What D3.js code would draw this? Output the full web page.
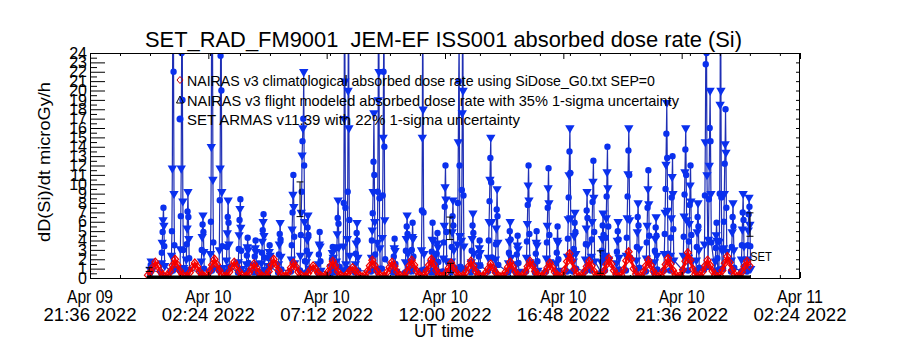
<!DOCTYPE html>
<html lang="en">
<head>
<meta charset="UTF-8">
<script src="https://d3js.org/d3.v7.min.js"></script>
<title>SET_RAD_FM9001 JEM-EF absorbed dose rate</title>
<style>
  body { margin: 0; background: #fff; }
  text { font-family: 'Liberation Sans', Arial, sans-serif; fill: #000; }
</style>
</head>
<body>
<svg width="900" height="350"></svg>
<script>
    // all times are hours relative to 2022-04-10 00:00 UT
    const tickHours = [-2.4, 2.4, 7.2, 12, 16.8, 21.6, 26.4];
    const tickDay = ["Apr 09", "Apr 10", "Apr 10", "Apr 10", "Apr 10", "Apr 10", "Apr 11"];
    const tickTime = ["21:36 2022", "02:24 2022", "07:12 2022", "12:00 2022", "16:48 2022", "21:36 2022", "02:24 2022"];
    const doseTicks = [0,1,2,3,4,5,6,7,8,9,10,11,12,13,14,15,16,17,18,19,20,21,22,23,24];

    // NAIRAS climatological, one value every 6 min starting 23:57
    const climStart = -0.05, climStepH = 0.1;
    const climDose = [
        0.30,0.65,1.15,1.70,1.25,0.70,0.30,0.15, 0.25,0.70,1.35,2.00,1.40,0.75,0.35,0.15,
        0.20,0.60,1.10,1.60,1.20,0.65,0.30,0.15, 0.25,0.75,1.40,2.00,1.45,0.80,0.35,0.15,
        0.20,0.65,1.20,1.70,1.25,0.70,0.30,0.12, 0.20,0.55,1.00,1.50,1.10,0.60,0.25,0.12,
        0.25,0.70,1.35,2.00,1.45,0.80,0.35,0.15, 0.20,0.60,1.10,1.60,1.20,0.65,0.30,0.12,
        0.18,0.50,0.90,1.30,0.95,0.55,0.25,0.12, 0.22,0.65,1.25,1.80,1.30,0.70,0.30,0.14,
        0.18,0.45,0.80,1.10,0.85,0.50,0.25,0.12, 0.22,0.70,1.30,1.90,1.35,0.75,0.32,0.14,
        0.20,0.62,1.15,1.70,1.25,0.68,0.30,0.13, 0.22,0.68,1.30,1.90,1.40,0.76,0.33,0.14,
        0.25,0.72,1.38,2.00,1.45,0.78,0.35,0.15, 0.20,0.58,1.08,1.60,1.15,0.62,0.28,0.13,
        0.22,0.65,1.22,1.80,1.30,0.70,0.31,0.14, 0.20,0.55,1.00,1.50,1.08,0.60,0.27,0.12,
        0.20,0.62,1.15,1.70,1.22,0.66,0.30,0.13, 0.22,0.66,1.24,1.80,1.32,0.72,0.32,0.14,
        0.20,0.58,1.08,1.60,1.16,0.63,0.28,0.13, 0.28,0.85,1.75,2.60,1.85,0.95,0.40,0.16,
        0.22,0.66,1.24,1.80,1.30,0.70,0.31,0.14, 0.25,0.75,1.45,2.10,1.50,0.80,0.35,0.15,
        0.30,0.90,1.85,2.80,2.00,1.00,0.42,0.17, 0.22,0.68,1.30,1.90,1.36,0.74,0.33,0.14,
        0.25,0.75,1.45,2.10,1.50,0.80,0.35,0.15, 0.28,0.88,1.80,2.70,1.92,0.98,0.41,0.16,
        0.22,0.68,1.30,1.90,1.36,0.74,0.33,0.14, 0.26,0.80,1.58,2.30,1.65,0.86,0.37,0.15,
        0.22,0.65,1.24,1.80,1.30
    ];

    // SET ARMAS, 1-minute samples grouped by pass (start hour of each pass)
    const setStepMin = 1;
    const passStart = [
        0.03, 0.48, 0.89, 1.25, 1.49, 2.10, 2.47, 2.83, 3.12, 3.60,
        3.93, 4.25, 4.54, 4.82, 5.23, 5.75, 6.12, 6.36, 6.85, 7.38,
        7.58, 7.86, 8.02, 8.35, 9.00, 9.24, 9.44, 9.89, 10.38, 10.62,
        11.03, 11.43, 11.63, 11.92, 12.24, 12.49, 12.65, 13.05, 13.34, 13.74,
        14.03, 14.56, 14.88, 15.29, 15.65, 16.10, 16.50, 16.95, 17.19, 17.68,
        17.92, 18.33, 18.49, 18.94, 19.34, 19.75, 20.15, 20.48, 20.88, 21.13,
        21.65, 21.86, 22.18, 22.51, 22.67, 22.95, 23.11, 23.28, 23.60, 24.01,
        24.25
    ];
    const passDose = [
        [0.5, 0.9, 1.4, 1.8, 1.3, 0.8],
        [0.6, 1.6, 2.7, 3.8, 4.9, 6.2, 7.5, 5.6, 3.4, 1.3],
        [0.7, 2.4, 5.0, 11.7, 28, 45, 22, 9.0, 3.5, 1.0],
        [0.8, 3.1, 6.6, 11.7, 24, 38, 19, 8.2, 3.0, 1.1],
        [0.7, 2.0, 3.6, 5.3, 7.1, 9.2, 6.5, 4.2, 2.1, 0.9],
        [0.6, 1.8, 3.0, 4.4, 5.7, 6.7, 4.9, 2.8, 1.0],
        [0.7, 2.6, 6.0, 14, 32, 50, 26, 10.5, 3.8, 1.0],
        [0.8, 3.0, 8.3, 11.7, 23.7, 42, 20, 9.2, 3.4, 1.1],
        [0.7, 1.9, 3.3, 4.8, 6.5, 8.3, 5.9, 3.6, 1.2],
        [0.6, 1.7, 3.1, 4.6, 6.2, 7.4, 8.4, 5.4, 2.9, 1.0],
        [0.6, 1.5, 2.4, 3.3, 4.3, 3.0, 1.6, 0.8],
        [0.6, 1.4, 2.3, 3.2, 4.0, 2.8, 1.5, 0.7],
        [0.6, 1.6, 2.7, 3.9, 5.1, 6.0, 6.8, 4.5, 2.2, 0.9],
        [0.5, 1.3, 2.1, 2.8, 3.5, 2.4, 1.2],
        [0.6, 1.5, 2.5, 3.6, 4.7, 5.9, 4.1, 2.3, 0.9],
        [0.7, 2.0, 3.5, 5.2, 7.0, 8.9, 11.0, 7.6, 4.4, 1.6],
        [0.8, 2.4, 4.6, 7.0, 9.2, 13.1, 14.6, 16.0, 17.0, 22.0, 12.0, 6.0, 1.8],
        [0.6, 1.7, 2.9, 4.1, 5.4, 6.7, 4.6, 2.5, 1.0],
        [0.6, 1.5, 2.5, 3.6, 4.9, 3.4, 1.8, 0.8],
        [0.5, 1.2, 2.0, 2.7, 3.3, 2.2, 1.0],
        [0.6, 1.8, 3.2, 4.7, 6.4, 8.3, 5.8, 3.3, 1.2],
        [0.8, 3.4, 8.0, 17, 46, 21, 7.5, 1.5],
        [1.0, 4.2, 9.2, 20, 35, 16, 6.2, 2.4, 0.9],
        [0.6, 1.5, 2.6, 3.7, 4.8, 5.9, 4.0, 2.2, 0.8],
        [0.7, 2.2, 4.0, 5.1, 6.9, 9.2, 12.4, 17.6, 11.0, 6.0, 2.5, 0.9],
        [0.9, 3.8, 9.2, 19, 40, 22, 8.5, 3.2, 1.0],
        [1.0, 4.3, 8.8, 15.0, 22.0, 30, 14, 6.2, 2.0],
        [0.6, 1.4, 2.3, 3.2, 4.2, 2.9, 1.5, 0.7],
        [0.6, 1.7, 2.9, 4.2, 5.5, 6.7, 4.7, 2.6, 1.0],
        [0.7, 1.8, 3.0, 4.4, 5.9, 4.2, 2.3, 0.9],
        [0.8, 3.0, 7.2, 15, 33, 18, 7.0, 2.6, 0.9],
        [0.6, 1.6, 2.8, 4.1, 5.9, 4.0, 2.1, 0.8],
        [0.6, 1.5, 2.6, 3.7, 4.8, 3.3, 1.7, 0.7],
        [0.7, 2.1, 3.8, 5.6, 7.6, 9.7, 12.0, 8.4, 4.9, 1.8],
        [0.6, 1.8, 3.3, 4.9, 6.6, 8.3, 5.6, 3.0, 1.1],
        [0.8, 3.6, 8.0, 14.5, 21.0, 26, 12, 4.5, 1.2],
        [0.9, 4.0, 9.4, 17.6, 36, 20, 8.8, 3.4, 1.0],
        [0.6, 1.7, 2.9, 4.2, 5.6, 6.9, 4.8, 2.6, 1.0],
        [0.6, 1.4, 2.3, 3.2, 4.0, 2.7, 1.3],
        [0.7, 2.2, 4.0, 6.0, 8.2, 10.5, 12.8, 15.0, 10.2, 6.0, 2.2],
        [0.7, 2.0, 3.6, 5.3, 7.3, 9.5, 6.6, 3.8, 1.4],
        [0.6, 1.6, 2.7, 3.9, 5.0, 6.0, 4.1, 2.2, 0.9],
        [0.6, 1.5, 2.5, 3.5, 4.5, 3.1, 1.6, 0.7],
        [0.7, 2.2, 3.9, 5.8, 7.8, 9.9, 12.0, 8.3, 4.7, 1.7],
        [0.6, 1.5, 2.6, 3.8, 5.0, 3.5, 1.8, 0.8],
        [0.7, 2.1, 3.8, 5.6, 7.5, 9.6, 11.7, 8.0, 4.6, 1.7],
        [0.6, 1.6, 2.7, 4.0, 5.5, 3.8, 2.0, 0.8],
        [0.7, 2.3, 4.2, 6.3, 8.6, 11.0, 13.5, 16.0, 11.2, 6.4, 2.4],
        [0.7, 1.8, 3.1, 4.5, 5.9, 7.0, 4.9, 2.6, 1.0],
        [0.7, 2.0, 3.6, 5.3, 7.2, 9.2, 6.4, 3.6, 1.3],
        [0.8, 2.3, 4.1, 6.0, 8.1, 10.3, 12.5, 8.6, 4.9, 1.8],
        [0.6, 1.7, 2.9, 4.2, 5.6, 6.9, 4.6, 2.2],
        [0.8, 2.4, 4.3, 6.4, 8.7, 11.3, 14.0, 9.6, 5.5, 2.0],
        [0.6, 1.6, 2.8, 4.0, 5.0, 6.0, 4.1, 2.2, 0.9],
        [0.8, 2.4, 4.3, 6.4, 8.7, 11.1, 13.6, 16.0, 11.0, 6.2, 2.2],
        [0.7, 1.9, 3.3, 4.9, 6.5, 8.0, 5.6, 3.1, 1.1],
        [0.7, 2.1, 3.8, 5.6, 7.5, 9.5, 11.5, 7.9, 4.5, 1.6],
        [0.6, 1.7, 2.9, 4.2, 5.4, 6.5, 4.5, 2.4, 0.9],
        [0.8, 2.6, 4.7, 7.0, 9.5, 12.1, 15.4, 18.7, 12.8, 7.2, 2.6],
        [0.8, 2.4, 4.3, 6.4, 8.6, 10.8, 13.0, 9.0, 5.2, 1.9],
        [0.8, 2.4, 4.4, 6.6, 8.9, 11.3, 13.7, 16.0, 11.0, 6.2, 2.2],
        [0.8, 2.2, 3.9, 5.8, 7.8, 9.9, 12.0, 8.2, 4.6, 1.7],
        [0.7, 1.9, 3.3, 4.9, 6.5, 8.0, 5.5, 3.0, 1.1],
        [0.9, 3.6, 8.8, 14.5, 22.8, 45, 24, 11],
        [1.2, 4.1, 8.4, 12.0, 16.0, 20.0, 14.6, 9.0, 3.8],
        [0.7, 1.8, 3.2, 4.6, 5.9, 4.0, 2.1, 0.8],
        [0.9, 3.9, 9.0, 18.5, 38, 20, 8.6, 3.0, 1.0],
        [1.0, 3.2, 6.0, 9.0, 12.2, 14.3, 18.0, 13.4, 7.5, 2.8],
        [0.7, 1.9, 3.3, 4.9, 6.5, 8.0, 5.5, 3.0, 1.1],
        [0.7, 2.0, 3.5, 5.2, 7.0, 9.0, 6.2, 3.4, 1.2],
        [0.7, 2.0, 3.5, 5.1, 6.8, 8.6, 7.6, 5.7, 3.4, 1.0]
    ];

    // error bars drawn on a few samples
    const errHours = [0.0, 6.12, 12.20, 12.22, 18.30, 24.37];
    const errDose = [0.9, 8.4, 5.3, 1.07, 1.7, 5.7];
    const errSigma = [0.2, 1.85, 1.2, 0.5, 1.2, 1.25];

    // NAIRAS flight modeled (stays near zero)
    const flightHours = [-0.1, 2, 4, 6, 8, 10, 12, 14, 16, 18, 20, 22, 24, 24.4];
    const flightDose = [0.1, 0.12, 0.1, 0.11, 0.1, 0.12, 0.1, 0.11, 0.1, 0.12, 0.11, 0.1, 0.12, 0.1];

    const hr = h => new Date(Date.UTC(2022, 3, 10) + h * 3.6e6);

    const pL = 90, pR = 800, pT = 53, pB = 278;
    const svg = d3.select("svg");
    const x = d3.scaleUtc().domain([hr(-2.4), hr(26.4)]).range([pL, pR]);
    const y = d3.scaleLinear().domain([0, 24]).range([pB, pT]);

    svg.append("clipPath").attr("id", "plot")
        .append("rect").attr("x", pL).attr("y", pT)
        .attr("width", pR - pL).attr("height", pB - pT);
    const plot = svg.append("g").attr("clip-path", "url(#plot)");

    const line = d3.line().x(d => x(d.t)).y(d => y(d.v));

    // SET ARMAS
    const setPts = passStart.flatMap((h0, i) =>
        passDose[i].map((v, j) => ({t: hr(h0 + j * setStepMin / 60), v, j})));
    plot.append("path").datum(setPts).attr("d", line)
        .attr("fill", "none").attr("stroke", "#1f2fb4").attr("stroke-width", 1.2);
    plot.append("g").selectAll("path").data(setPts).enter().append("path")
        .attr("transform", d => `translate(${x(d.t)},${y(d.v)})` + (d.j % 2 ? " rotate(180)" : ""))
        .attr("d", d => d3.symbol().type(d.j % 2 ? d3.symbolTriangle : d3.symbolCircle).size(d.j % 2 ? 38 : 32)())
        .attr("fill", "#0a30ee");

    // NAIRAS climatological
    const climPts = climDose.map((v, i) => ({t: hr(climStart + i * climStepH), v}));
    plot.append("path").datum(climPts).attr("d", line)
        .attr("fill", "none").attr("stroke", "#ff0000").attr("stroke-width", 2.6);
    plot.append("g").selectAll("path").data(climPts).enter().append("path")
        .attr("transform", d => `translate(${x(d.t)},${y(d.v)})`)
        .attr("d", "M0,-4L3.5,0L0,4L-3.5,0Z")
        .attr("fill", "none").attr("stroke", "#ee0000").attr("stroke-width", 1.2);

    // NAIRAS flight modeled
    const flightPts = flightHours.map((h, i) => ({t: hr(h), v: flightDose[i]}));
    svg.append("path").datum(flightPts).attr("d", line)
        .attr("fill", "none").attr("stroke", "#000").attr("stroke-width", 3);

    // error bars
    const eb = svg.append("g").attr("stroke", "#000").attr("stroke-width", 1);
    errHours.forEach((h, i) => {
        const cx = x(hr(h)), y0 = y(errDose[i] - errSigma[i]), y1 = y(errDose[i] + errSigma[i]);
        eb.append("line").attr("x1", cx).attr("x2", cx).attr("y1", y0).attr("y2", y1);
        eb.append("line").attr("x1", cx - 3.5).attr("x2", cx + 3.5).attr("y1", y0).attr("y2", y0);
        eb.append("line").attr("x1", cx - 3.5).attr("x2", cx + 3.5).attr("y1", y1).attr("y2", y1);
    });

    // axes, ticks pointing inwards like the original plot
    const majorT = tickHours.map(hr);
    const minorT = d3.range(1, 24).map(k => hr(-2.4 + k * 73 / 60));
    const halfTicks = doseTicks.slice(0, -1).map(d => d + 0.5);
    function addAxis(axis, tx, ty) {
        const g = svg.append("g").attr("transform", `translate(${tx},${ty})`).call(axis);
        g.select(".domain").remove();
        return g;
    }
    addAxis(d3.axisBottom(x).tickValues(majorT).tickSize(-6).tickFormat(""), 0, pB);
    addAxis(d3.axisBottom(x).tickValues(minorT).tickSize(-3).tickFormat(""), 0, pB);
    addAxis(d3.axisTop(x).tickValues(majorT).tickSize(-6).tickFormat(""), 0, pT);
    addAxis(d3.axisTop(x).tickValues(minorT).tickSize(-3).tickFormat(""), 0, pT);
    const yl = addAxis(d3.axisLeft(y).tickValues(doseTicks).tickSize(-15).tickPadding(3).tickFormat(d3.format("d")), pL, 0);
    yl.selectAll("text").attr("font-size", 16).attr("font-family", "'Liberation Sans', Arial, sans-serif");
    addAxis(d3.axisLeft(y).tickValues(halfTicks).tickSize(-7).tickFormat(""), pL, 0);
    addAxis(d3.axisRight(y).tickValues(doseTicks).tickSize(-4).tickFormat(""), pR, 0);

    svg.append("rect").attr("x", pL + 0.5).attr("y", pT + 0.5)
        .attr("width", pR - pL - 1).attr("height", pB - pT)
        .attr("fill", "none").attr("stroke", "#000");

    // x tick labels on two lines
    const xl = svg.append("g").attr("text-anchor", "middle").attr("font-size", 18);
    majorT.forEach((t, i) => {
        xl.append("text").attr("x", x(t)).attr("y", 303).text(tickDay[i])
            .attr("textLength", 46).attr("lengthAdjust", "spacingAndGlyphs");
        xl.append("text").attr("x", x(t)).attr("y", 321).text(tickTime[i])
            .attr("textLength", 93).attr("lengthAdjust", "spacingAndGlyphs");
    });

    svg.append("text").attr("x", 444).attr("y", 337).attr("text-anchor", "middle")
        .attr("font-size", 18).attr("textLength", 60).attr("lengthAdjust", "spacingAndGlyphs")
        .text("UT time");

    svg.append("text").attr("transform", "translate(50,162) rotate(-90)")
        .attr("text-anchor", "middle").attr("font-size", 17)
        .attr("textLength", 160).attr("lengthAdjust", "spacingAndGlyphs")
        .text("dD(Si)/dt microGy/h");

    svg.append("text").attr("x", 443.5).attr("y", 47).attr("text-anchor", "middle")
        .style("white-space", "pre").attr("font-size", 22)
        .attr("textLength", 597).attr("lengthAdjust", "spacingAndGlyphs")
        .text("SET_RAD_FM9001  JEM-EF ISS001 absorbed dose rate (Si)");

    // legend
    const legendText = [
        "NAIRAS v3 climatological absorbed dose rate using SiDose_G0.txt SEP=0",
        "NAIRAS v3 flight modeled absorbed dose rate with 35% 1-sigma uncertainty",
        "SET ARMAS v11.39 with 22% 1-sigma uncertainty"
    ];
    const legendWidth = [468, 492, 333];
    const lg = svg.append("g");
    legendText.forEach((s, i) => {
        lg.append("text").attr("x", 187).attr("y", 86 + i * 19.5).attr("font-size", 15)
            .attr("textLength", legendWidth[i]).attr("lengthAdjust", "spacingAndGlyphs").text(s);
    });
    lg.append("path").attr("transform", "translate(180,80)").attr("d", "M0,-3.5L3,0L0,3.5L-3,0Z")
        .attr("fill", "none").attr("stroke", "#c00000");
    lg.append("path").attr("transform", "translate(180,100)").attr("d", "M0,-4L3.5,3L-3.5,3Z")
        .attr("fill", "none").attr("stroke", "#000");
    lg.append("circle").attr("cx", 180).attr("cy", 119).attr("r", 3.5).attr("fill", "#0a30ee");

    svg.append("text").attr("x", 750).attr("y", 261).attr("font-size", 13)
        .attr("textLength", 22).attr("lengthAdjust", "spacingAndGlyphs").text("SET");
</script>
</body>
</html>
